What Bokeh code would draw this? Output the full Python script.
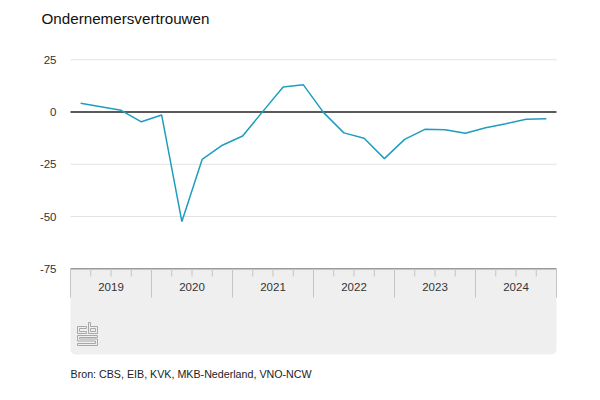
from bokeh.plotting import figure
from bokeh.models import Label, Range1d
from bokeh.embed import file_html
from bokeh.resources import INLINE
from bokeh.core.properties import value

# ---------------- data ----------------
title_text = "Ondernemersvertrouwen"
source_text = "Bron: CBS, EIB, KVK, MKB-Nederland, VNO-NCW"
years = ["2019", "2020", "2021", "2022", "2023", "2024"]
quarters_per_year = 4
confidence = [4.2, 2.5, 0.8, -4.7,
              -1.4, -52.4, -22.7, -15.9,
              -11.5, 0.3, 12.0, 13.0,
              -0.3, -10.0, -12.6, -22.3,
              -13.1, -8.3, -8.5, -10.2,
              -7.5, -5.6, -3.5, -3.2]
y_ticks = [-75, -50, -25, 0, 25]
y_tick_labels = ["-75", "-50", "-25", "0", "25"]

# ---------------- layout helpers (picture pixels -> data) ----------------
PX_Q = 20.25      # px per quarter
X0 = 70.0         # x of start of 2019
PX_V = 2.09       # px per index point
Y0 = 111.5        # y of value 0
W, H = 584, 384


def qx(px):
    return (px - X0) / PX_Q


def vy(py):
    return (Y0 - py) / PX_V


FONT = "Liberation Sans"
n_q = len(years) * quarters_per_year

p = figure(width=W, height=H, output_backend="svg", toolbar_location=None,
           x_range=Range1d(qx(0), qx(W)), y_range=Range1d(vy(H), vy(0)),
           min_border_left=0, min_border_right=0, min_border_top=0, min_border_bottom=0)
p.outline_line_color = None
p.axis.visible = False
p.grid.visible = False

# grey category-axis box
p.quad(left=0, right=n_q, top=y_ticks[0], bottom=vy(354), fill_color="#efefef", line_color=None,
       border_radius=(0, 0, 5, 5))

# gridlines
grid_vals = [t for t in y_ticks if t not in (0, y_ticks[0])]
p.segment(x0=[0] * len(grid_vals), x1=[n_q] * len(grid_vals), y0=grid_vals, y1=grid_vals,
          line_color="#e2e2e2", line_width=1)

# y tick labels
p.text(x=[qx(56)] * len(y_ticks), y=y_ticks, text=y_tick_labels, text_align="right",
       text_baseline="middle", text_font=value(FONT), text_font_size="11.5px", text_color="#333333")

# box top border
p.segment(x0=[0], x1=[n_q], y0=[y_ticks[0]], y1=[y_ticks[0]], line_color="#9a9a9a", line_width=1.5)

# year separators & quarter ticks
year_edges = [i * quarters_per_year for i in range(len(years) + 1)]
p.segment(x0=year_edges, x1=year_edges, y0=[y_ticks[0]] * len(year_edges),
          y1=[vy(297)] * len(year_edges), line_color="#c4c4c4", line_width=1)
q_ticks = [i for i in range(n_q) if i % quarters_per_year != 0]
p.segment(x0=q_ticks, x1=q_ticks, y0=[y_ticks[0]] * len(q_ticks),
          y1=[vy(276)] * len(q_ticks), line_color="#c4c4c4", line_width=1)

# year labels
year_centers = [i * quarters_per_year + quarters_per_year / 2 for i in range(len(years))]
p.text(x=year_centers, y=[vy(286)] * len(years), text=years, text_align="center",
       text_baseline="middle", text_font=value(FONT), text_font_size="11.5px", text_color="#333333")

# zero line
p.segment(x0=[0], x1=[n_q], y0=[0], y1=[0], line_color="#5a5a5a", line_width=2)

# data line
xs = [i + 0.5 for i in range(len(confidence))]
p.line(x=xs, y=confidence, line_color="#1f9dbf", line_width=1.5)

# CBS logo (decorative), local pixel coords mapped to data
LX, LY = 77, 322
logo_paths = [
    [(9, 4), (0, 4), (0, 11), (9, 11), (9, 9), (2, 9), (2, 6), (9, 6), (9, 4)],
    [(11, 0), (13, 0), (13, 4), (20, 4), (20, 11), (11, 11), (11, 0)],
    [(13, 6), (18, 6), (18, 9), (13, 9), (13, 6)],
    [(20, 13), (0, 13), (0, 18.5), (18, 18.5), (18, 21), (0, 21), (0, 23), (20, 23),
     (20, 16.5), (2, 16.5), (2, 15), (20, 15), (20, 13)],
]
p.multi_line(xs=[[qx(LX + u) for u, w in path] for path in logo_paths],
             ys=[[vy(LY + w) for u, w in path] for path in logo_paths],
             line_color="#a8a8a8", line_width=1)

# title and source
p.add_layout(Label(x=qx(41), y=vy(18), text=title_text, text_font=FONT, text_font_size="15.2px",
                   text_color="#111111", text_baseline="middle", text_align="left"))
p.add_layout(Label(x=qx(70), y=vy(373), text=source_text, text_font=FONT, text_font_size="10.7px",
                   text_color="#222222", text_baseline="middle", text_align="left"))

open("out.html", "w").write(file_html(p, INLINE))
